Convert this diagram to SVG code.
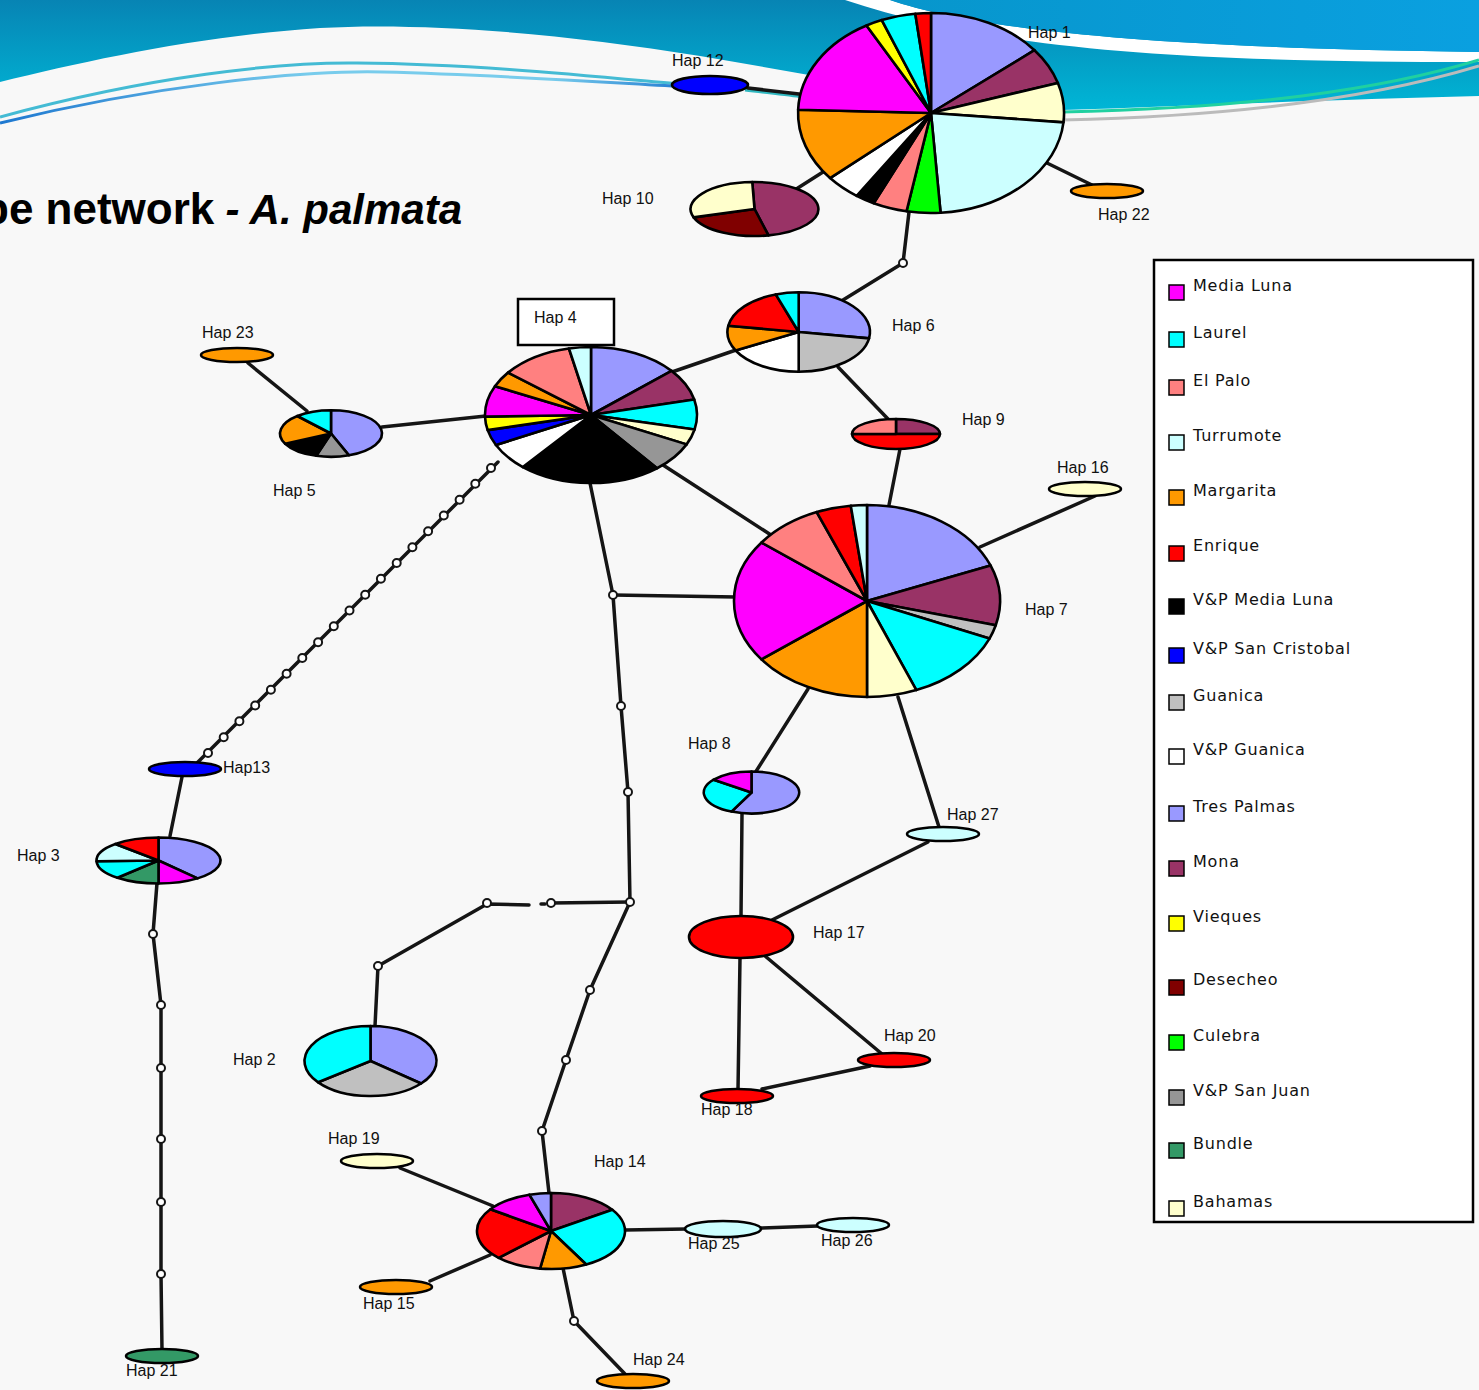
<svg xmlns="http://www.w3.org/2000/svg" width="1479" height="1390" viewBox="0 0 1479 1390">
<defs>
<linearGradient id="bgBlue" x1="0" y1="0" x2="0" y2="1">
<stop offset="0" stop-color="#0784B4"/>
<stop offset="1" stop-color="#00B6D6"/>
</linearGradient>
<linearGradient id="bgBlue2" x1="0" y1="0" x2="1" y2="0">
<stop offset="0" stop-color="#0796CC"/>
<stop offset="1" stop-color="#0AA0E0"/>
</linearGradient>
<linearGradient id="thin2" x1="0" y1="0" x2="1" y2="0">
<stop offset="0" stop-color="#1E78D0"/>
<stop offset="0.45" stop-color="#78CCEC"/>
<stop offset="0.8" stop-color="#78CCEC"/>
<stop offset="1" stop-color="#1E78D0"/>
</linearGradient>
<style>
.c{fill:none;stroke:#151515;stroke-width:3.5;stroke-linejoin:round;stroke-linecap:round}
.m{fill:#fff;stroke:#151515;stroke-width:2}
.s{stroke:#000;stroke-width:2.6;stroke-linejoin:round;vector-effect:non-scaling-stroke}
.e{stroke:#000;stroke-width:2.6}
.lb{font-family:"Liberation Sans",Arial,sans-serif;font-size:16px;fill:#111}
.lg{font-family:"DejaVu Sans",Verdana,sans-serif;font-size:16px;letter-spacing:0.8px;fill:#111}
.sq{stroke:#000;stroke-width:1.5}
.tp{fill:#9999FF}.mo{fill:#993366}.ba{fill:#FFFFCC}.tu{fill:#CCFFFF}.cu{fill:#00FF00}
.ep{fill:#FF8080}.bk{fill:#000}.wh{fill:#fff}.ma{fill:#FF9900}.ml{fill:#FF00FF}
.vi{fill:#FFFF00}.la{fill:#00FFFF}.en{fill:#FF0000}.de{fill:#800000}.gu{fill:#C0C0C0}
.sj{fill:#969696}.sc{fill:#0000FF}.bu{fill:#339966}
</style>
</defs>

<g id="background">
<rect x="0" y="0" width="1479" height="1390" fill="#F8F8F8"/>
<path d="M0,0 H1479 V96 C1320,100 1180,106 1062,110 C930,100 820,76 700,56 C560,33 420,22 320,28 C200,36 90,60 0,82 Z" fill="url(#bgBlue)"/>
<path d="M845,0 L890,0 C980,30 1150,48 1479,52 L1479,62 C1200,62 1000,52 845,0 Z" fill="#FFFFFF"/>
<path d="M890,0 H1479 V52 C1150,48 980,30 890,0 Z" fill="url(#bgBlue2)"/>
<path d="M0,117 C150,76 280,62 357,63 C480,64 600,77 690,85" fill="none" stroke="#44BBD4" stroke-width="3"/>
<path d="M0,123 C150,86 300,70 383,72 C500,75 600,82 690,87" fill="none" stroke="url(#thin2)" stroke-width="3"/>
<path d="M745,90 C770,93 790,95 802,97" fill="none" stroke="#30B8C0" stroke-width="3"/>
<path d="M1062,112 C1250,108 1380,90 1479,60" fill="none" stroke="#20D0A0" stroke-width="3"/>
<path d="M1062,120 C1250,116 1380,96 1479,66" fill="none" stroke="#BBBBBB" stroke-width="3"/>
</g>

<g id="title" font-family="Liberation Sans, Arial, sans-serif" font-weight="bold" fill="#000">
<text x="-18" y="224" font-size="44">pe network</text>
<text x="462" y="224" text-anchor="end" font-size="42" font-style="italic">- A. palmata</text>
</g>

<g id="connectors">
<path class="c" d="M748,88 L799,94"/>
<path class="c" d="M823,172 L790,193"/>
<path class="c" d="M1047,163 L1092,185"/>
<path class="c" d="M909,212 L903,263 L843,300"/>
<path class="c" d="M248,363 L307,411"/>
<path class="c" d="M382,427 L486,416"/>
<path class="c" d="M672,372 L736,350"/>
<path class="c" d="M838,367 L888,419"/>
<path class="c" d="M900,449 L889,505"/>
<path class="c" d="M1095,496 L980,547"/>
<path class="c" d="M663,465 L771,535"/>
<path class="c" d="M590,483 L613,595 L621,706 L628,792 L630,902 L590,990 L566,1060 L542,1131 L549,1193"/>
<path class="c" d="M613,595 L736,597"/>
<path class="c" d="M630,902 L551,903 M545,904 L541,904 M529,905 L487,904 L378,966 L375,1026"/>
<path class="c" d="M498,462 L195,765"/>
<path class="c" d="M182,777 L170,836"/>
<path class="c" d="M157,883 L153,934 L161,1005 L161,1068 L161,1139 L161,1202 L161,1274 L162,1350"/>
<path class="c" d="M808,689 L755,773"/>
<path class="c" d="M742,814 L741,916"/>
<path class="c" d="M898,697 L939,827"/>
<path class="c" d="M928,842 L772,920"/>
<path class="c" d="M765,956 L882,1054"/>
<path class="c" d="M740,958 L738,1090"/>
<path class="c" d="M762,1089 L870,1066"/>
<path class="c" d="M400,1168 L493,1206"/>
<path class="c" d="M430,1281 L490,1255"/>
<path class="c" d="M563,1268 L574,1321 L625,1374"/>
<path class="c" d="M625,1230 L686,1229"/>
<path class="c" d="M761,1228 L818,1226"/>
<g id="median-vectors">
<circle class="m" cx="903" cy="263" r="4"/>
<circle class="m" cx="613" cy="595" r="4"/>
<circle class="m" cx="621" cy="706" r="4"/>
<circle class="m" cx="628" cy="792" r="4"/>
<circle class="m" cx="630" cy="902" r="4"/>
<circle class="m" cx="590" cy="990" r="4"/>
<circle class="m" cx="566" cy="1060" r="4"/>
<circle class="m" cx="542" cy="1131" r="4"/>
<circle class="m" cx="487" cy="903" r="4"/>
<circle class="m" cx="551" cy="903" r="4"/>
<circle class="m" cx="378" cy="966" r="4"/>
<circle class="m" cx="574" cy="1321" r="4"/>
<circle class="m" cx="153" cy="934" r="4"/>
<circle class="m" cx="161" cy="1005" r="4"/>
<circle class="m" cx="161" cy="1068" r="4"/>
<circle class="m" cx="161" cy="1139" r="4"/>
<circle class="m" cx="161" cy="1202" r="4"/>
<circle class="m" cx="161" cy="1274" r="4"/>
<circle class="m" cx="491" cy="468" r="4"/>
<circle class="m" cx="475.3" cy="483.8" r="4"/>
<circle class="m" cx="459.6" cy="499.7" r="4"/>
<circle class="m" cx="443.8" cy="515.5" r="4"/>
<circle class="m" cx="428.1" cy="531.3" r="4"/>
<circle class="m" cx="412.4" cy="547.2" r="4"/>
<circle class="m" cx="396.7" cy="563" r="4"/>
<circle class="m" cx="380.9" cy="578.8" r="4"/>
<circle class="m" cx="365.2" cy="594.7" r="4"/>
<circle class="m" cx="349.5" cy="610.5" r="4"/>
<circle class="m" cx="333.8" cy="626.3" r="4"/>
<circle class="m" cx="318.1" cy="642.2" r="4"/>
<circle class="m" cx="302.3" cy="658" r="4"/>
<circle class="m" cx="286.6" cy="673.8" r="4"/>
<circle class="m" cx="270.9" cy="689.7" r="4"/>
<circle class="m" cx="255.2" cy="705.5" r="4"/>
<circle class="m" cx="239.4" cy="721.3" r="4"/>
<circle class="m" cx="223.7" cy="737.2" r="4"/>
<circle class="m" cx="208" cy="753" r="4"/>
</g>
</g>

<g id="hap1">
<g transform="translate(931,113) scale(1.33,1)">
<path class="s tp" d="M0,0 L0,-100 A100,100 0 0 1 77.8,-62.8 Z"/>
<path class="s mo" d="M0,0 L77.8,-62.8 A100,100 0 0 1 95.4,-30.1 Z"/>
<path class="s ba" d="M0,0 L95.4,-30.1 A100,100 0 0 1 99.6,9.4 Z"/>
<path class="s tu" d="M0,0 L99.6,9.4 A100,100 0 0 1 7.2,99.7 Z"/>
<path class="s cu" d="M0,0 L7.2,99.7 A100,100 0 0 1 -18.4,98.3 Z"/>
<path class="s ep" d="M0,0 L-18.4,98.3 A100,100 0 0 1 -43.1,90.3 Z"/>
<path class="s bk" d="M0,0 L-43.1,90.3 A100,100 0 0 1 -55.9,82.9 Z"/>
<path class="s wh" d="M0,0 L-55.9,82.9 A100,100 0 0 1 -75.9,65.1 Z"/>
<path class="s ma" d="M0,0 L-75.9,65.1 A100,100 0 0 1 -99.9,-3.3 Z"/>
<path class="s ml" d="M0,0 L-99.9,-3.3 A100,100 0 0 1 -48.5,-87.5 Z"/>
<path class="s vi" d="M0,0 L-48.5,-87.5 A100,100 0 0 1 -37,-92.9 Z"/>
<path class="s la" d="M0,0 L-37,-92.9 A100,100 0 0 1 -11.8,-99.3 Z"/>
<path class="s en" d="M0,0 L-11.8,-99.3 A100,100 0 0 1 0,-100 Z"/>
</g>
<text class="lb" x="1028" y="38">Hap 1</text>
</g>

<g id="hap12"><ellipse class="e sc" cx="710" cy="85" rx="38" ry="9"/><text class="lb" x="672" y="66">Hap 12</text></g>

<g id="hap10">
<g transform="translate(754.5,209) scale(0.64,0.27)">
<path class="s mo" d="M0,0 L-3.5,-99.9 A100,100 0 0 1 21.8,97.6 Z"/>
<path class="s de" d="M0,0 L21.8,97.6 A100,100 0 0 1 -95.1,30.9 Z"/>
<path class="s ba" d="M0,0 L-95.1,30.9 A100,100 0 0 1 -3.5,-99.9 Z"/>
</g>
<text class="lb" x="602" y="204">Hap 10</text>
</g>

<g id="hap22"><ellipse class="e ma" cx="1107" cy="191" rx="36" ry="7"/><text class="lb" x="1098" y="220">Hap 22</text></g>

<g id="hap6">
<g transform="translate(798.7,332) scale(0.713,0.397)">
<path class="s tp" d="M0,0 L0,-100 A100,100 0 0 1 98.7,16 Z"/>
<path class="s gu" d="M0,0 L98.7,16 A100,100 0 0 1 0,100 Z"/>
<path class="s wh" d="M0,0 L0,100 A100,100 0 0 1 -88.5,46.6 Z"/>
<path class="s ma" d="M0,0 L-88.5,46.6 A100,100 0 0 1 -98.7,-15.8 Z"/>
<path class="s en" d="M0,0 L-98.7,-15.8 A100,100 0 0 1 -32.2,-94.7 Z"/>
<path class="s la" d="M0,0 L-32.2,-94.7 A100,100 0 0 1 0,-100 Z"/>
</g>
<text class="lb" x="892" y="331">Hap 6</text>
</g>

<g id="hap9">
<g transform="translate(896,434) scale(0.44,0.15)">
<path class="s mo" d="M0,0 L0,-100 A100,100 0 0 1 100,0 Z"/>
<path class="s en" d="M0,0 L100,0 A100,100 0 0 1 -100,0 Z"/>
<path class="s ep" d="M0,0 L-100,0 A100,100 0 0 1 0,-100 Z"/>
</g>
<text class="lb" x="962" y="425">Hap 9</text>
</g>

<g id="hap4">
<g transform="translate(591,415) scale(1.06,0.68)">
<path class="s tp" d="M0,0 L0,-100 A100,100 0 0 1 76,-64.9 Z"/>
<path class="s mo" d="M0,0 L76,-64.9 A100,100 0 0 1 97.4,-22.8 Z"/>
<path class="s la" d="M0,0 L97.4,-22.8 A100,100 0 0 1 97.7,21.3 Z"/>
<path class="s ba" d="M0,0 L97.7,21.3 A100,100 0 0 1 90.2,43.2 Z"/>
<path class="s sj" d="M0,0 L90.2,43.2 A100,100 0 0 1 62.3,78.3 Z"/>
<path class="s bk" d="M0,0 L62.3,78.3 A100,100 0 0 1 -64.3,76.6 Z"/>
<path class="s wh" d="M0,0 L-64.3,76.6 A100,100 0 0 1 -89.7,44.1 Z"/>
<path class="s sc" d="M0,0 L-89.7,44.1 A100,100 0 0 1 -97.5,22.2 Z"/>
<path class="s vi" d="M0,0 L-97.5,22.2 A100,100 0 0 1 -100,2.4 Z"/>
<path class="s ml" d="M0,0 L-100,2.4 A100,100 0 0 1 -90.6,-42.4 Z"/>
<path class="s ma" d="M0,0 L-90.6,-42.4 A100,100 0 0 1 -78.3,-62.3 Z"/>
<path class="s ep" d="M0,0 L-78.3,-62.3 A100,100 0 0 1 -20.8,-97.8 Z"/>
<path class="s tu" d="M0,0 L-20.8,-97.8 A100,100 0 0 1 0,-100 Z"/>
</g>
<rect x="518" y="299" width="96" height="46" fill="#fff" stroke="#000" stroke-width="2.5"/>
<text class="lb" x="534" y="323">Hap 4</text>
</g>

<g id="hap23"><ellipse class="e ma" cx="237" cy="355" rx="36" ry="7"/><text class="lb" x="202" y="338">Hap 23</text></g>

<g id="hap5">
<g transform="translate(331,433.5) scale(0.51,0.233)">
<path class="s tp" d="M0,0 L0,-100 A100,100 0 0 1 35.2,93.6 Z"/>
<path class="s sj" d="M0,0 L35.2,93.6 A100,100 0 0 1 -28.9,95.7 Z"/>
<path class="s bk" d="M0,0 L-28.9,95.7 A100,100 0 0 1 -89.9,43.8 Z"/>
<path class="s ma" d="M0,0 L-89.9,43.8 A100,100 0 0 1 -66,-75.1 Z"/>
<path class="s la" d="M0,0 L-66,-75.1 A100,100 0 0 1 0,-100 Z"/>
</g>
<text class="lb" x="273" y="496">Hap 5</text>
</g>

<g id="hap16"><ellipse class="e ba" cx="1085" cy="489" rx="36" ry="7"/><text class="lb" x="1057" y="473">Hap 16</text></g>

<g id="hap7">
<g transform="translate(867,601) scale(1.33,0.96)">
<path class="s tp" d="M0,0 L0,-100 A100,100 0 0 1 92.9,-37 Z"/>
<path class="s mo" d="M0,0 L92.9,-37 A100,100 0 0 1 96.8,25.2 Z"/>
<path class="s gu" d="M0,0 L96.8,25.2 A100,100 0 0 1 92.1,39.1 Z"/>
<path class="s la" d="M0,0 L92.1,39.1 A100,100 0 0 1 37.1,92.8 Z"/>
<path class="s ba" d="M0,0 L37.1,92.8 A100,100 0 0 1 0,100 Z"/>
<path class="s ma" d="M0,0 L0,100 A100,100 0 0 1 -79.4,60.8 Z"/>
<path class="s ml" d="M0,0 L-79.4,60.8 A100,100 0 0 1 -79.3,-60.9 Z"/>
<path class="s ep" d="M0,0 L-79.3,-60.9 A100,100 0 0 1 -37.8,-92.6 Z"/>
<path class="s en" d="M0,0 L-37.8,-92.6 A100,100 0 0 1 -12.2,-99.3 Z"/>
<path class="s tu" d="M0,0 L-12.2,-99.3 A100,100 0 0 1 0,-100 Z"/>
</g>
<text class="lb" x="1025" y="615">Hap 7</text>
</g>

<g id="hap13"><ellipse class="e sc" cx="185" cy="769" rx="36" ry="7"/><text class="lb" x="223" y="773">Hap13</text></g>

<g id="hap3">
<g transform="translate(158.5,860.5) scale(0.62,0.23)">
<path class="s tp" d="M0,0 L0,-100 A100,100 0 0 1 62.9,77.7 Z"/>
<path class="s ml" d="M0,0 L62.9,77.7 A100,100 0 0 1 0,100 Z"/>
<path class="s bu" d="M0,0 L0,100 A100,100 0 0 1 -66.3,74.9 Z"/>
<path class="s la" d="M0,0 L-66.3,74.9 A100,100 0 0 1 -99.9,3.5 Z"/>
<path class="s tu" d="M0,0 L-99.9,3.5 A100,100 0 0 1 -69.5,-71.9 Z"/>
<path class="s en" d="M0,0 L-69.5,-71.9 A100,100 0 0 1 0,-100 Z"/>
</g>
<text class="lb" x="17" y="861">Hap 3</text>
</g>

<g id="hap2">
<g transform="translate(370.5,1061) scale(0.66,0.35)">
<path class="s tp" d="M0,0 L0,-100 A100,100 0 0 1 76.6,64.3 Z"/>
<path class="s gu" d="M0,0 L76.6,64.3 A100,100 0 0 1 -79.3,60.9 Z"/>
<path class="s la" d="M0,0 L-79.3,60.9 A100,100 0 0 1 0,-100 Z"/>
</g>
<text class="lb" x="233" y="1065">Hap 2</text>
</g>

<g id="hap8">
<g transform="translate(751.5,792.5) scale(0.477,0.21)">
<path class="s tp" d="M0,0 L0,-100 A100,100 0 1 1 -41.9,90.8 Z"/>
<path class="s la" d="M0,0 L-41.9,90.8 A100,100 0 0 1 -79.3,-60.9 Z"/>
<path class="s ml" d="M0,0 L-79.3,-60.9 A100,100 0 0 1 0,-100 Z"/>
</g>
<text class="lb" x="688" y="749">Hap 8</text>
</g>

<g id="hap27"><ellipse class="e tu" cx="943" cy="834" rx="36" ry="7"/><text class="lb" x="947" y="820">Hap 27</text></g>
<g id="hap17"><ellipse class="e en" cx="741" cy="937" rx="52" ry="21"/><text class="lb" x="813" y="938">Hap 17</text></g>
<g id="hap20"><ellipse class="e en" cx="894" cy="1060" rx="36" ry="7"/><text class="lb" x="884" y="1041">Hap 20</text></g>
<g id="hap18"><ellipse class="e en" cx="737" cy="1096" rx="36" ry="7"/><text class="lb" x="701" y="1115">Hap 18</text></g>
<g id="hap19"><ellipse class="e ba" cx="377" cy="1161" rx="36" ry="7"/><text class="lb" x="328" y="1144">Hap 19</text></g>

<g id="hap14">
<g transform="translate(551,1231) scale(0.74,0.38)">
<path class="s mo" d="M0,0 L0,-100 A100,100 0 0 1 82.9,-55.9 Z"/>
<path class="s la" d="M0,0 L82.9,-55.9 A100,100 0 0 1 47.6,88 Z"/>
<path class="s ma" d="M0,0 L47.6,88 A100,100 0 0 1 -14.8,98.9 Z"/>
<path class="s ep" d="M0,0 L-14.8,98.9 A100,100 0 0 1 -70.7,70.7 Z"/>
<path class="s en" d="M0,0 L-70.7,70.7 A100,100 0 0 1 -81.9,-57.4 Z"/>
<path class="s ml" d="M0,0 L-81.9,-57.4 A100,100 0 0 1 -29.2,-95.6 Z"/>
<path class="s tp" d="M0,0 L-29.2,-95.6 A100,100 0 0 1 0,-100 Z"/>
</g>
<text class="lb" x="594" y="1167">Hap 14</text>
</g>

<g id="hap25"><ellipse class="e tu" cx="723" cy="1229" rx="38" ry="8"/><text class="lb" x="688" y="1249">Hap 25</text></g>
<g id="hap26"><ellipse class="e tu" cx="853" cy="1225" rx="36" ry="7"/><text class="lb" x="821" y="1246">Hap 26</text></g>
<g id="hap15"><ellipse class="e ma" cx="396" cy="1287" rx="36" ry="7"/><text class="lb" x="363" y="1309">Hap 15</text></g>
<g id="hap24"><ellipse class="e ma" cx="633" cy="1381" rx="36" ry="7"/><text class="lb" x="633" y="1365">Hap 24</text></g>
<g id="hap21"><ellipse class="e bu" cx="162" cy="1356" rx="36" ry="7"/><text class="lb" x="126" y="1376">Hap 21</text></g>

<g id="legend">
<rect x="1154" y="260" width="319" height="962" fill="#fff" stroke="#000" stroke-width="2.5"/>
<rect class="sq ml" x="1169" y="285" width="15" height="15"/><text class="lg" x="1193" y="291">Media Luna</text>
<rect class="sq la" x="1169" y="332" width="15" height="15"/><text class="lg" x="1193" y="338">Laurel</text>
<rect class="sq ep" x="1169" y="380" width="15" height="15"/><text class="lg" x="1193" y="386">El Palo</text>
<rect class="sq tu" x="1169" y="435" width="15" height="15"/><text class="lg" x="1193" y="441">Turrumote</text>
<rect class="sq ma" x="1169" y="490" width="15" height="15"/><text class="lg" x="1193" y="496">Margarita</text>
<rect class="sq en" x="1169" y="546" width="15" height="15"/><text class="lg" x="1193" y="551">Enrique</text>
<rect class="sq bk" x="1169" y="599" width="15" height="15"/><text class="lg" x="1193" y="605">V&amp;P Media Luna</text>
<rect class="sq sc" x="1169" y="648" width="15" height="15"/><text class="lg" x="1193" y="654">V&amp;P San Cristobal</text>
<rect class="sq gu" x="1169" y="695" width="15" height="15"/><text class="lg" x="1193" y="701">Guanica</text>
<rect class="sq wh" x="1169" y="749" width="15" height="15"/><text class="lg" x="1193" y="755">V&amp;P Guanica</text>
<rect class="sq tp" x="1169" y="806" width="15" height="15"/><text class="lg" x="1193" y="812">Tres Palmas</text>
<rect class="sq mo" x="1169" y="861" width="15" height="15"/><text class="lg" x="1193" y="867">Mona</text>
<rect class="sq vi" x="1169" y="916" width="15" height="15"/><text class="lg" x="1193" y="922">Vieques</text>
<rect class="sq de" x="1169" y="980" width="15" height="15"/><text class="lg" x="1193" y="985">Desecheo</text>
<rect class="sq cu" x="1169" y="1035" width="15" height="15"/><text class="lg" x="1193" y="1041">Culebra</text>
<rect class="sq sj" x="1169" y="1090" width="15" height="15"/><text class="lg" x="1193" y="1096">V&amp;P San Juan</text>
<rect class="sq bu" x="1169" y="1143" width="15" height="15"/><text class="lg" x="1193" y="1149">Bundle</text>
<rect class="sq ba" x="1169" y="1201" width="15" height="15"/><text class="lg" x="1193" y="1207">Bahamas</text>
</g>
</svg>
